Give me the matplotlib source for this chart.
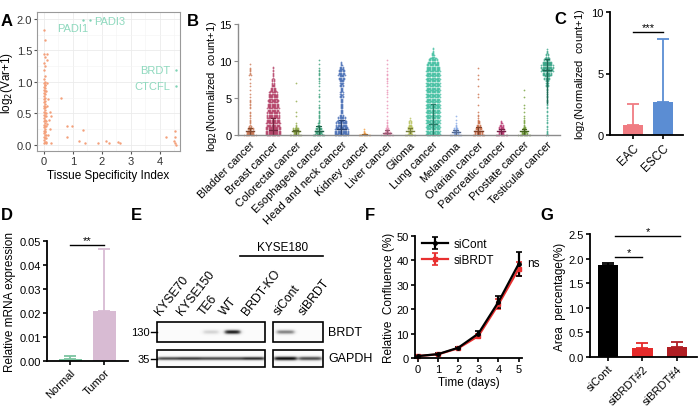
import numpy as np
import matplotlib
matplotlib.use("Agg")
import matplotlib.pyplot as plt
from matplotlib.patches import Rectangle

plt.rcParams['font.family'] = ['Liberation Sans', 'DejaVu Sans']
plt.rcParams['font.size'] = 7.5
plt.rcParams['axes.linewidth'] = 1.3

# ---------------- data ----------------
# A: tissue specificity vs variance
a_x = [0.0, 0.02, 0.0, 0.03, 0.0, 0.02, 0.0, 0.03, 0.0, 0.02, 0.0, 0.04, 0.0, 0.02, 0.0, 0.03,
       0.0, 0.02, 0.0, 0.04, 0.0, 0.02, 0.0, 0.03, 0.0, 0.02, 0.0, 0.04, 0.0, 0.02, 0.0, 0.03,
       0.0, 0.02, 0.0, 0.04, 0.0, 0.02, 0.0, 0.03, 0.0, 0.02, 0.0, 0.04, 0.0, 0.02, 0.0, 0.03,
       0.0, 0.05, 0.06, 0.05, 0.06, 0.08, 0.07, 0.06, 0.05, 0.08, 0.07, 0.06, 0.08,
       0.12, 0.1, 0.12, 0.15, 0.2, 0.25, 0.18, 0.2, 0.15, 0.25, 0.12, 0.1,
       0.6, 0.8, 0.95, 0.78, 1.2, 1.35, 1.4, 1.85, 2.15, 2.25, 2.55, 2.62,
       4.2, 4.52, 4.52, 4.5, 4.52, 4.55]
a_y = [1.82, 1.66, 1.45, 1.40, 1.30, 1.25, 1.18, 1.10, 1.05, 1.00, 0.98, 0.95, 0.92, 0.90, 0.87, 0.85,
       0.82, 0.80, 0.78, 0.75, 0.72, 0.70, 0.68, 0.65, 0.62, 0.60, 0.58, 0.55, 0.52, 0.50, 0.48, 0.45,
       0.42, 0.40, 0.38, 0.35, 0.32, 0.30, 0.28, 0.25, 0.22, 0.20, 0.18, 0.15, 0.12, 0.10, 0.08, 0.05,
       0.03, 0.95, 0.85, 0.6, 0.5, 0.45, 0.38, 0.3, 0.22, 0.15, 0.1, 0.05, 0.02,
       1.45, 1.35, 0.98, 0.72, 0.52, 0.45, 0.40, 0.25, 0.15, 0.02, 0.62, 0.33,
       0.74, 0.29, 0.30, 0.13, 0.06, 0.24, 0.02, 0.03, 0.06, 0.03, 0.05, 0.03,
       0.13, 0.22, 0.12, 0.06, 0.03, 0.0]
a_hi_x = [1.35, 1.6, 4.55, 4.55]
a_hi_y = [1.98, 1.98, 1.19, 0.93]
a_hi_lab = ['PADI1', 'PADI3', 'BRDT', 'CTCFL']

# B: expression per cancer type (counts per 0.5 bin from 0)
b_categories = ['Bladder cancer', 'Breast cancer', 'Colorectal cancer', 'Esophageal cancer',
                'Head and neck cancer', 'Kidney cancer', 'Liver cancer', 'Glioma', 'Lung cancer',
                'Melanoma', 'Ovarian cancer', 'Pancreatic cancer', 'Prostate cancer', 'Testicular cancer']
b_bin_counts = [
    [18, 15, 5, 3, 2, 3, 1, 2, 3, 2, 1, 1, 1, 1, 1, 1, 4, 3, 1, 1],
    [36, 36, 34, 34, 32, 30, 28, 28, 26, 26, 24, 20, 12, 8, 6, 4, 3, 2, 2],
    [12, 16, 3, 1, 0, 1, 1, 0, 0, 1, 0, 0, 0, 0, 1],
    [16, 16, 6, 4, 3, 3, 2, 2, 1, 1, 2, 1, 1, 1, 2, 2, 3, 2, 1, 1, 1],
    [34, 32, 28, 26, 18, 8, 6, 6, 6, 6, 8, 8, 6, 8, 12, 14, 16, 14, 8, 3],
    [5, 2],
    [16, 8, 3, 2, 1, 1, 1, 1, 1, 1, 1, 2, 1, 1, 2, 2, 2, 1, 1, 1, 1],
    [10, 12, 10, 6, 2],
    [34, 34, 34, 34, 34, 34, 34, 34, 34, 34, 34, 34, 34, 34, 34, 34, 34, 34, 32, 28, 20, 8, 4, 2],
    [12, 10, 3, 1, 1, 1],
    [18, 16, 10, 6, 2, 2, 1, 0, 1, 0, 1, 1, 0, 1, 0, 1, 1, 0, 1],
    [12, 14, 10, 4],
    [14, 10, 4, 3, 2, 1, 1, 1, 1, 0, 1, 0, 1],
    [3, 2, 2, 2, 2, 2, 2, 2, 3, 2, 2, 2, 2, 5, 8, 14, 22, 28, 30, 24, 14, 6, 3, 1],
]
b_zero_counts = [10, 11, 10, 10, 11, 10, 10, 9, 11, 10, 10, 10, 10, 2]
b_median = [0.6, 0.7, 0.5, 0.5, 0.8, 0.0, 0.3, 0.6, 1.5, 0.4, 0.6, 0.5, 0.5, 8.8]
b_q1 = [0.1, 0.1, 0.2, 0.1, 0.2, 0.0, 0.0, 0.3, 0.1, 0.1, 0.2, 0.2, 0.2, 4.3]
b_q3 = [1.0, 2.3, 0.7, 1.2, 2.0, 0.1, 0.7, 1.0, 4.2, 0.7, 1.1, 0.8, 0.8, 10.3]
b_colors = ['#C8714A', '#B23A62', '#8AA53F', '#2E9B72', '#4169B3', '#F59A3B', '#E98AB0',
            '#B4BF55', '#3DBE9F', '#7FA3E3', '#C8663F', '#B8316D', '#6B9A2E', '#2FA182']

# C
c_groups = ['EAC', 'ESCC']
c_mean = [0.85, 2.65]
c_err = [1.65, 5.15]
c_colors = ['#F07C82', '#5B8DD3']

# D
d_groups = ['Normal', 'Tumor']
d_mean = [0.0007, 0.021]
d_err = [0.0013, 0.0255]
d_colors = ['#7CC4A0', '#D8BBD3']

# E: western blot lanes and band intensities
e_lanes1 = ['KYSE70', 'KYSE150', 'TE6', 'WT', 'BRDT-KO']
e_lanes2 = ['siCont', 'siBRDT']
e_brdt1 = [0.0, 0.0, 0.25, 0.9, 0.0]
e_gapdh1 = [0.75, 0.8, 0.75, 0.75, 0.85]
e_brdt2 = [0.55, 0.0]
e_gapdh2 = [0.95, 0.75]

# F
f_days = [0, 1, 2, 3, 4, 5]
f_sicont = [0.8, 1.6, 4.2, 10.0, 23.0, 38.5]
f_sicont_err = [0.3, 0.3, 0.4, 1.0, 2.5, 5.0]
f_sibrdt = [0.8, 1.5, 4.0, 9.0, 22.0, 36.5]
f_sibrdt_err = [0.3, 0.3, 0.4, 0.8, 2.0, 3.0]

# G
g_groups = ['siCont', 'siBRDT#2', 'siBRDT#4']
g_mean = [1.88, 0.19, 0.20]
g_err = [0.03, 0.10, 0.11]
g_colors = ['#000000', '#E52A2A', '#B01E23']

# ---------------- figure ----------------
W, H = 698, 414
fig = plt.figure(figsize=(W / 100, H / 100), dpi=100)


def px_axes(l, t, r, b):
    return fig.add_axes([l / W, 1 - b / H, (r - l) / W, (b - t) / H])


def letter(x, y, s):
    fig.text(x / W, 1 - y / H, s, fontsize=12, fontweight='bold', va='center', ha='left')


def prism_style(ax):
    for s in ['top', 'right']:
        ax.spines[s].set_visible(False)
    ax.tick_params(length=3, width=1.2, labelsize=8, pad=1.5)


def sig_bar(ax, x0, x1, y, txt):
    ax.plot([x0, x1], [y, y], color='black', lw=1.0, clip_on=False)
    ax.text((x0 + x1) / 2, y, txt, ha='center', va='bottom', fontsize=8)


# ----- A -----
axA = px_axes(37, 13, 180, 152)
axA.set_xlim(-0.24, 4.69)
axA.set_ylim(-0.1, 2.11)
axA.set_xticks([0, 1, 2, 3, 4])
axA.set_yticks([0, 0.5, 1.0, 1.5, 2.0])
axA.set_yticklabels(['0.0', '0.5', '1.0', '1.5', '2.0'])
axA.set_xticks([0.5, 1.5, 2.5, 3.5, 4.5], minor=True)
axA.set_yticks([0.25, 0.75, 1.25, 1.75], minor=True)
axA.grid(True, which='major', color='#EBEBEB', lw=0.6)
axA.grid(True, which='minor', color='#F4F4F4', lw=0.4)
axA.set_axisbelow(True)
for s in axA.spines.values():
    s.set_color('#9A9A9A')
    s.set_linewidth(0.8)
axA.tick_params(which='major', length=2, color='#555555', labelsize=8, labelcolor='#333333', pad=1.5)
axA.tick_params(which='minor', length=0)
axA.scatter(a_x, a_y, s=3, color='#F4A07A', lw=0)
axA.scatter(a_hi_x, a_hi_y, s=3, color='#7FD3B5', lw=0)
axA.text(1.52, 1.86, a_hi_lab[0], ha='right', va='center', color='#8FD9BE', fontsize=8)
axA.text(1.72, 1.97, a_hi_lab[1], ha='left', va='center', color='#8FD9BE', fontsize=8)
axA.text(4.35, 1.19, a_hi_lab[2], ha='right', va='center', color='#8FD9BE', fontsize=8)
axA.text(4.35, 0.93, a_hi_lab[3], ha='right', va='center', color='#8FD9BE', fontsize=8)
axA.set_xlabel('Tissue Specificity Index', fontsize=8.5, labelpad=2)
axA.set_ylabel('log$_2$(Var+1)', fontsize=8.5, labelpad=1)
letter(1, 21, 'A')

# ----- B -----
axB = px_axes(238, 25, 560, 136)
axB.set_xlim(-0.53, 13.57)
axB.set_ylim(0, 15)
rows, dx, bw = 3, 0.055, 0.5
for i, counts in enumerate(b_bin_counts):
    xs, ys = [], []
    for k, n in enumerate(counts):
        for j in range(rows):
            m = n // rows + (1 if j < n % rows else 0)
            for p in range(m):
                xs.append(i + (p - (m - 1) / 2) * dx)
                ys.append(k * bw + (j + 0.5) * bw / rows)
    nz = b_zero_counts[i]
    for p in range(nz):
        xs.append(i + (p - (nz - 1) / 2) * dx)
        ys.append(0.0)
    axB.scatter(xs, ys, s=1.6, color=b_colors[i], lw=0, alpha=0.75, clip_on=False)
    dark = tuple(c * 0.65 for c in matplotlib.colors.to_rgb(b_colors[i]))
    axB.plot([i, i], [b_q1[i], b_q3[i]], color=dark, lw=1.0)
    axB.plot([i - 0.18, i + 0.18], [b_median[i], b_median[i]], color=dark, lw=1.0)
    axB.plot([i - 0.1, i + 0.1], [b_q3[i], b_q3[i]], color=dark, lw=0.8)
for s in ['top', 'right']:
    axB.spines[s].set_visible(False)
for s in ['left', 'bottom']:
    axB.spines[s].set_color('#8C8C8C')
    axB.spines[s].set_linewidth(1.0)
axB.set_yticks([0, 5, 10, 15])
axB.set_xticks(range(len(b_categories)))
axB.set_xticklabels(b_categories, rotation=45, ha='right', va='top', rotation_mode='anchor', fontsize=8)
axB.tick_params(axis='y', length=3, color='#8C8C8C', labelsize=8, pad=1.5)
axB.tick_params(axis='x', length=0, pad=3)
axB.set_ylabel('log$_2$(Normalized  count+1)', fontsize=8)
axB.yaxis.set_label_coords(-0.06, 0.45)
letter(187, 21, 'B')

# ----- C -----
axC = px_axes(610, 13, 683, 136)
prism_style(axC)
xc = np.arange(len(c_groups))
axC.bar(xc, c_mean, width=0.67, color=c_colors)
for i in xc:
    axC.errorbar(i, c_mean[i], yerr=[[0], [c_err[i]]], color=c_colors[i], capsize=4, lw=1.3, capthick=1.3)
axC.set_xlim(-0.77, 1.67)
axC.set_ylim(0, 10)
axC.set_yticks([0, 5, 10])
axC.set_xticks(xc)
axC.set_xticklabels(c_groups, rotation=45, ha='right', va='top', rotation_mode='anchor', fontsize=8.5)
sig_bar(axC, 0, 1, 8.4, '***')
axC.set_ylabel('log$_2$(Normalized  count+1)', fontsize=8, labelpad=3)
letter(554, 20, 'C')

# ----- D -----
axD = px_axes(47, 242, 128, 362)
prism_style(axD)
xd = np.arange(len(d_groups))
axD.bar(xd, d_mean, width=0.68, color=d_colors)
for i in xd:
    axD.errorbar(i, d_mean[i], yerr=[[0], [d_err[i]]], color=d_colors[i], capsize=4, lw=1.3, capthick=1.3)
axD.set_xlim(-0.68, 1.7)
axD.set_ylim(0, 0.05)
axD.set_yticks([0, 0.01, 0.02, 0.03, 0.04, 0.05])
axD.set_yticklabels(['0.00', '0.01', '0.02', '0.03', '0.04', '0.05'])
axD.set_xticks(xd)
axD.set_xticklabels(d_groups, rotation=45, ha='right', va='top', rotation_mode='anchor', fontsize=8)
sig_bar(axD, 0, 1, 0.0485, '**')
axD.set_ylabel('Relative mRNA expression', fontsize=8.5, labelpad=2)
letter(1, 216, 'D')

# ----- E (blot) -----
axE = px_axes(130, 200, 345, 385)
axE.set_xlim(130, 345)
axE.set_ylim(385, 200)
axE.axis('off')


def blot(x0, x1, y0, y1, vals, halfw, sig):
    w, h = x1 - x0, y1 - y0
    X, Y = np.meshgrid(np.linspace(0, w, int(w * 4)), np.linspace(0, h, int(h * 4)))
    img = np.full(X.shape, 0.03)
    lw = w / len(vals)
    for i, v in enumerate(vals):
        cx = (i + 0.5) * lw
        hx = 1 / (1 + np.exp((np.abs(X - cx) - halfw * lw) / 1.2))
        img += v * hx * np.exp(-0.5 * ((Y - h / 2) / sig) ** 2)
    axE.imshow(np.clip(img, 0, 1), cmap='Greys', vmin=0, vmax=1, extent=(x0, x1, y1, y0),
               aspect='auto', interpolation='bilinear')
    axE.add_patch(Rectangle((x0, y0), w, h, fill=False, lw=1.2, ec='black'))


bx1 = (157, 265)
bx2 = (273, 323)
blot(bx1[0], bx1[1], 323, 343, e_brdt1, 0.36, 1.6)
blot(bx1[0], bx1[1], 351, 368, e_gapdh1, 0.5, 1.3)
blot(bx2[0], bx2[1], 323, 343, e_brdt2, 0.36, 1.6)
blot(bx2[0], bx2[1], 351, 368, e_gapdh2, 0.46, 1.5)
for lanes, (x0, x1) in [(e_lanes1, bx1), (e_lanes2, bx2)]:
    lw = (x1 - x0) / len(lanes)
    for i, lab in enumerate(lanes):
        axE.text(x0 + (i + 0.5) * lw - 5, 318, lab, rotation=52, ha='left', va='bottom',
                 rotation_mode='anchor', fontsize=8.8)
axE.text(150, 333, '130', ha='right', va='center', fontsize=8)
axE.text(150, 360, '35', ha='right', va='center', fontsize=8)
axE.plot([151, 157], [333, 333], color='black', lw=1)
axE.plot([151, 157], [360, 360], color='black', lw=1)
axE.text(328, 333, 'BRDT', ha='left', va='center', fontsize=9)
axE.text(328, 359, 'GAPDH', ha='left', va='center', fontsize=9)
axE.text(283, 248, 'KYSE180', ha='center', va='center', fontsize=8.5)
axE.plot([240, 323], [257, 257], color='black', lw=1.2)
letter(131, 216, 'E')

# ----- F -----
axF = px_axes(415, 237, 522, 359)
prism_style(axF)
axF.errorbar(f_days, f_sibrdt, yerr=f_sibrdt_err, color='#E83030', marker='s', ms=2.5, lw=1.6,
             capsize=2.5, capthick=1.2, label='siBRDT', clip_on=False)
axF.errorbar(f_days, f_sicont, yerr=f_sicont_err, color='black', marker='o', ms=2.5, lw=1.6,
             capsize=2.5, capthick=1.2, label='siCont', clip_on=False)
axF.set_xlim(-0.15, 5.17)
axF.set_ylim(0, 50)
axF.set_xticks(f_days)
axF.set_yticks([0, 10, 20, 30, 40, 50])
h, l = axF.get_legend_handles_labels()
axF.legend(h[::-1], l[::-1], loc='upper left', bbox_to_anchor=(0.02, 1.02), frameon=False,
           fontsize=8.5, handlelength=2.2, handletextpad=0.5, labelspacing=0.3, borderaxespad=0)
axF.text(5.42, 39, 'ns', ha='left', va='center', fontsize=8.5)
axF.set_xlabel('Time (days)', fontsize=8.5, labelpad=1)
axF.set_ylabel('Relative  Confluence (%)', fontsize=8.5, labelpad=1)
letter(365, 216, 'F')

# ----- G -----
axG = px_axes(590, 235, 697, 358)
prism_style(axG)
xg = np.arange(len(g_groups))
axG.bar(xg, g_mean, width=0.6, color=g_colors)
for i in xg:
    axG.errorbar(i, g_mean[i], yerr=[[0], [g_err[i]]], color=g_colors[i], capsize=4, lw=1.3, capthick=1.3)
axG.set_xlim(-0.52, 2.58)
axG.set_ylim(0, 2.5)
axG.set_yticks([0, 0.5, 1.0, 1.5, 2.0, 2.5])
axG.set_yticklabels(['0.0', '0.5', '1.0', '1.5', '2.0', '2.5'])
axG.set_xticks(xg)
axG.set_xticklabels(g_groups, rotation=45, ha='right', va='top', rotation_mode='anchor', fontsize=8)
sig_bar(axG, 0.2, 1.0, 2.03, '*')
sig_bar(axG, 0.2, 2.1, 2.45, '*')
axG.set_ylabel('Area  percentage(%)', fontsize=8.5, labelpad=2)
letter(540, 216, 'G')

fig.savefig('out.png', dpi=100)
